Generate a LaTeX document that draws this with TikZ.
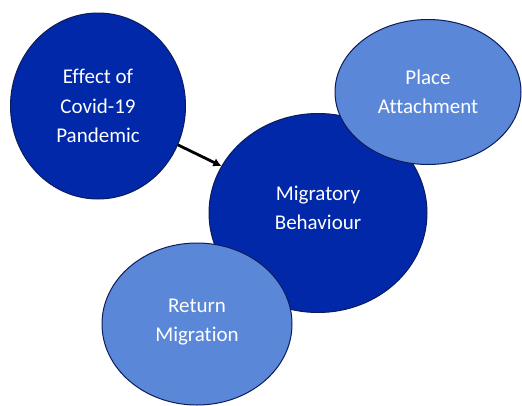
\documentclass[tikz,border=0pt]{standalone}
\usepackage{fontspec}
\setmainfont{Carlito}[Ligatures=NoCommon]
\usetikzlibrary{shapes.geometric,arrows.meta}
\definecolor{darkfill}{RGB}{0,40,168}
\definecolor{lightfill}{RGB}{91,135,216}
\definecolor{rimcol}{RGB}{12,28,92}
\tikzset{
  bubble/.style={ellipse, draw=rimcol, line width=1pt, inner sep=0pt,
    align=center, text=white, font=\fontsize{21}{29.5}\selectfont},
  darkbubble/.style={bubble, fill=darkfill},
  lightbubble/.style={bubble, fill=lightfill}
}
\begin{document}
\begin{tikzpicture}[x=1pt, y=-1pt]
    \useasboundingbox (0,0) rectangle (522,405);

    \node[darkbubble, minimum width=175pt, minimum height=186pt] (effect) at (98,106)
      {Effect of\\Covid-19\\Pandemic};
    \node[darkbubble, minimum width=218pt, minimum height=199pt] (migr) at (318,213)
      {Migratory\\Behaviour\\[-19pt]};
    \node[lightbubble, minimum width=186pt, minimum height=145pt] (place) at (428,92)
      {Place\\Attachment};
    \node[lightbubble, minimum width=190pt, minimum height=162pt] (ret) at (197,324)
      {Return\\Migration\\[-22pt]};

    \draw[line width=2.8pt, -{Latex[length=8pt,width=9pt]}] (effect) -- (migr);
\end{tikzpicture}
\end{document}
